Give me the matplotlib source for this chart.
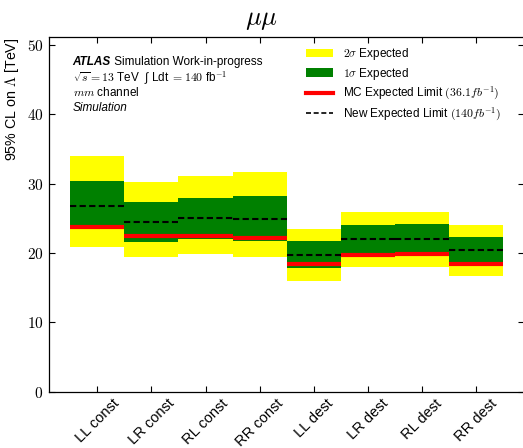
import matplotlib
matplotlib.use("Agg")
import matplotlib.pyplot as plt
from matplotlib.patches import Patch
from matplotlib.lines import Line2D
import numpy as np

plt.rcParams["font.family"] = ["Liberation Sans", "DejaVu Sans"]
plt.rcParams["mathtext.fontset"] = "cm"

categories = ["LL const", "LR const", "RL const", "RR const",
              "LL dest", "LR dest", "RL dest", "RR dest"]
band2_hi = [34.0, 30.3, 31.1, 31.7, 23.5, 25.9, 25.9, 24.1]
band2_lo = [20.9, 19.45, 19.9, 19.35, 15.9, 18.0, 18.0, 16.7]
band1_hi = [30.4, 27.4, 27.95, 28.2, 21.75, 24.05, 24.2, 22.35]
band1_lo = [23.5, 21.6, 22.0, 21.8, 17.85, 19.4, 19.5, 18.2]
new_expected = [26.75, 24.4, 25.05, 24.9, 19.75, 21.95, 22.05, 20.4]
mc_expected = [23.8, 22.5, 22.4, 22.2, 18.45, 19.7, 19.8, 18.45]
yticks = [0, 10, 20, 30, 40, 50]

fig = plt.figure(figsize=(5.23, 4.48), dpi=100)
ax = fig.add_axes([49 / 523, 1 - 391.7 / 448, 475 / 523, (391.7 - 37.3) / 448])

x = np.arange(len(categories))
ax.bar(x, np.subtract(band2_hi, band2_lo), bottom=band2_lo, width=1.0,
       color="#ffff00", linewidth=0, zorder=1)
ax.bar(x, np.subtract(band1_hi, band1_lo), bottom=band1_lo, width=1.0,
       color="#008000", linewidth=0, zorder=2)
ax.hlines(new_expected, x - 0.5, x + 0.5, colors="black", linewidth=1.5,
          linestyles=(0, (3.0, 1.6)), zorder=3)
ax.hlines(mc_expected, x - 0.5, x + 0.5, colors="#ff0000", linewidth=3.0,
          zorder=4)

ax.set_xlim(-0.89, 7.88)
ax.set_ylim(0, 51.1)
ax.set_xticks(x)
ax.set_xticklabels(categories, rotation=45, fontsize=10.5)
ax.set_yticks(yticks)
ax.set_yticklabels([f"${v}$" for v in yticks], fontsize=11)
ax.tick_params(direction="in", top=True, right=True, length=4, width=0.8)
ax.tick_params(axis="y", pad=4)
ax.set_ylabel(r"95% CL on $\Lambda$ [TeV]", fontsize=10.3, loc="top",
              labelpad=4)
for sp in ax.spines.values():
    sp.set_linewidth(0.9)

fig.text(0.5, 1 - 20 / 448, r"$\mu\mu$", fontsize=19, ha="center",
         va="center")

# ATLAS label block
x_txt = 72.7 / 523
t0 = fig.text(x_txt, 1 - 65 / 448, "ATLAS", fontsize=8.5,
              fontweight="bold", fontstyle="italic", va="baseline")
ax.annotate(" Simulation Work-in-progress", xy=(1, 0), xycoords=t0,
            fontsize=8.5, va="bottom", ha="left")
fig.text(x_txt, 1 - 82 / 448,
         "$\\sqrt{s} = 13$ TeV  \u222B Ldt $= 140$ fb$^{\\mathsf{-1}}$",
         fontsize=8.5, va="baseline")
fig.text(x_txt, 1 - 96 / 448, r"$mm$ channel", fontsize=8.5,
         va="baseline")
fig.text(x_txt, 1 - 111 / 448, "Simulation", fontsize=8.5,
         fontstyle="italic", va="baseline")

handles = [
    Patch(facecolor="#ffff00", edgecolor="none"),
    Patch(facecolor="#008000", edgecolor="none"),
    Line2D([], [], color="#ff0000", linewidth=3.0),
    Line2D([], [], color="black", linewidth=1.2, linestyle=(0, (3.0, 1.6))),
]
labels = [
    r"$2\sigma$ Expected",
    r"$1\sigma$ Expected",
    r"MC Expected Limit $(36.1fb^{-1})$",
    r"New Expected Limit $(140fb^{-1})$",
]
fig.legend(handles, labels, loc="upper left",
           bbox_to_anchor=(306 / 523, 1 - 46 / 448), frameon=False,
           fontsize=8.5, handlelength=2.3, handleheight=0.75,
           handletextpad=0.8, labelspacing=0.3, borderpad=0.0,
           borderaxespad=0.0)

fig.savefig("out.png", dpi=100)
